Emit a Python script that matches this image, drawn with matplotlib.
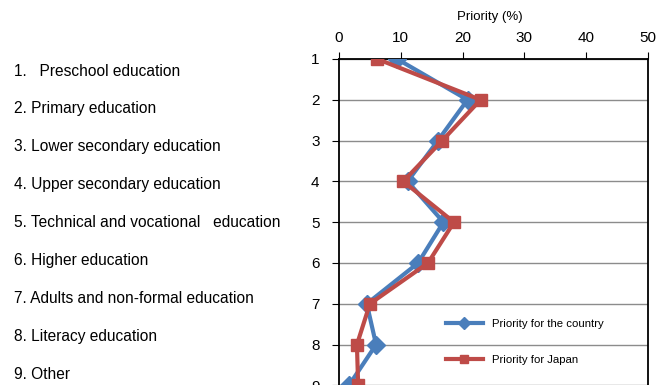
import matplotlib.pyplot as plt

plt.rcParams['font.family'] = ['Liberation Sans', 'DejaVu Sans']

# education levels, ranked 1..9
levels = [1, 2, 3, 4, 5, 6, 7, 8, 9]
level_names = [
    "1.   Preschool education",
    "2. Primary education",
    "3. Lower secondary education",
    "4. Upper secondary education",
    "5. Technical and vocational   education",
    "6. Higher education",
    "7. Adults and non-formal education",
    "8. Literacy education",
    "9. Other",
]
country = [9.4, 20.8, 16.0, 11.1, 16.9, 12.8, 4.5, 6.0, 1.6]
japan = [6.2, 22.9, 16.7, 10.4, 18.6, 14.4, 5.0, 2.9, 3.1]
xticks = [0, 10, 20, 30, 40, 50]

W, H = 670, 385
fig = plt.figure(figsize=(W / 100, H / 100), dpi=100)

# plot area in pixel units
x0, x1, y_top = 339, 648, 59
y_bot = y_top + 8.1 * 40.8
ax = fig.add_axes([x0 / W, 1 - y_bot / H, (x1 - x0) / W, (y_bot - y_top) / H])

ax.plot(country, levels, color='#4A7EBB', lw=3, marker='D', ms=9,
        label='Priority for the country', zorder=3)
ax.plot(japan, levels, color='#BE4B48', lw=3, marker='s', ms=9,
        label='Priority for Japan', zorder=4)

ax.set_xlim(0, 50)
ax.set_ylim(9.1, 1)
ax.set_xticks(xticks)
ax.set_yticks(levels)
ax.xaxis.tick_top()
ax.tick_params(axis='x', top=True, bottom=False, direction='out', length=5,
               pad=5, labelsize=11)
ax.tick_params(axis='y', direction='out', length=5, pad=9, labelsize=11)
ax.yaxis.grid(True, color='#8c8c8c', lw=1)
ax.set_axisbelow(True)
for s in ['top', 'left', 'right']:
    ax.spines[s].set_color('black')
    ax.spines[s].set_linewidth(1.3)
ax.spines['bottom'].set_visible(False)

fig.text(490 / W, 1 - 17 / H, "Priority (%)", ha='center', va='center', fontsize=9.5)

for i, name in enumerate(level_names):
    fig.text(14 / W, 1 - (71 + 37.9 * i) / H, name, ha='left', va='center',
             fontsize=11.2)

leg = ax.legend(loc='upper left', bbox_to_anchor=((436 - x0) / (x1 - x0), (y_bot - 309) / (y_bot - y_top)),
                frameon=False, fontsize=8.2, handlelength=3.2, labelspacing=2.3,
                markerscale=0.7)

fig.savefig('out.png', dpi=100)
